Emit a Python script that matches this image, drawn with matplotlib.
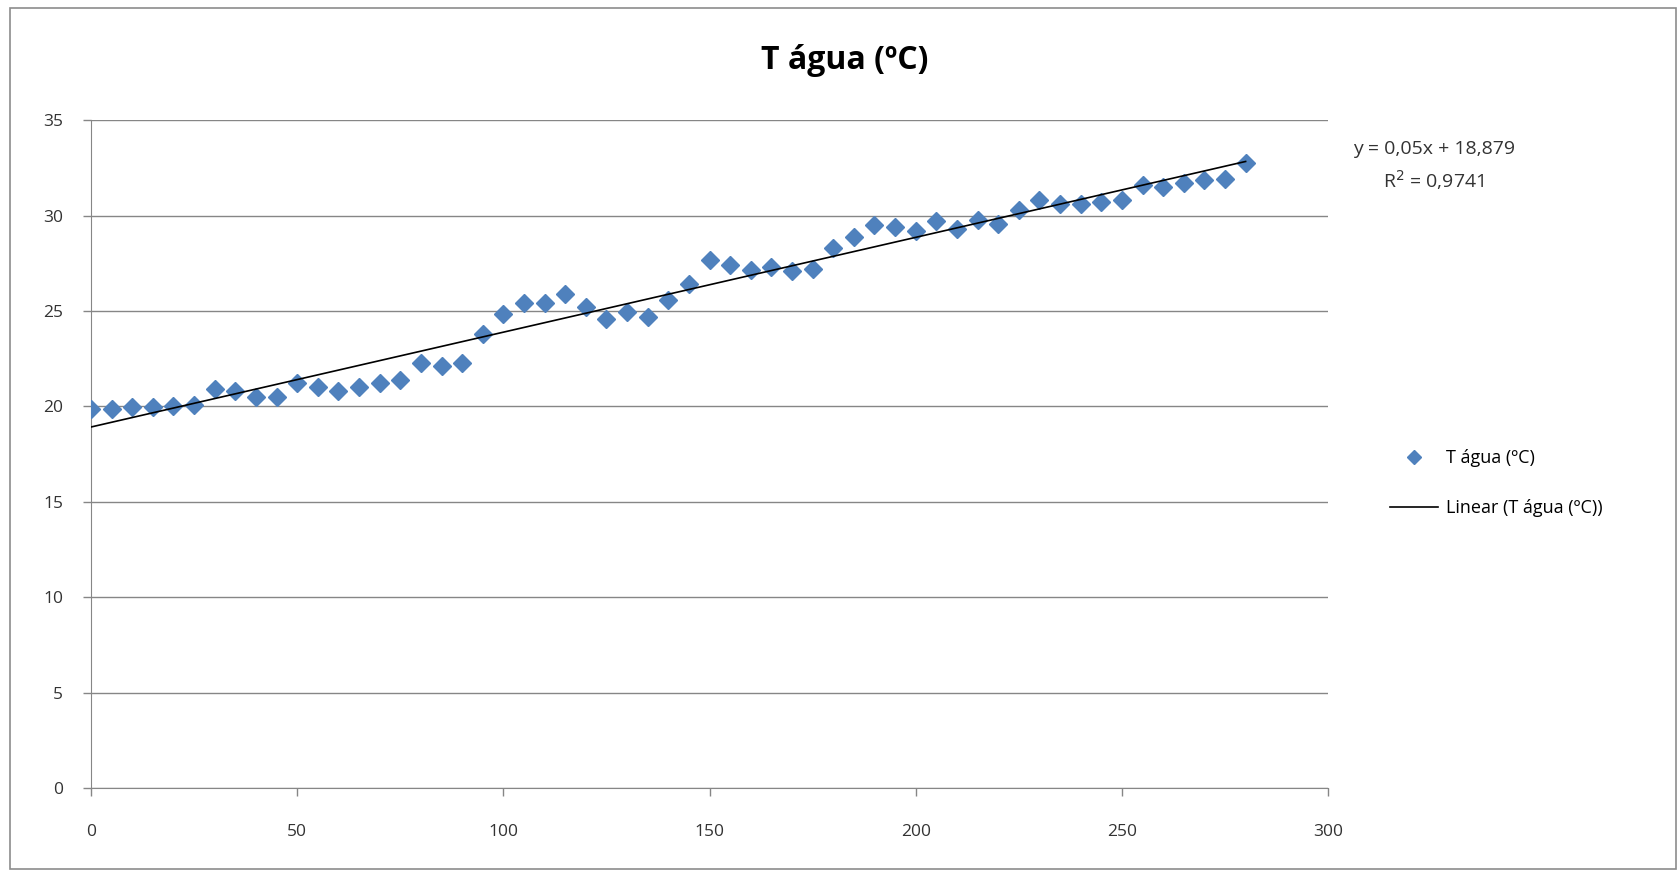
import numpy as np
import matplotlib.pyplot as plt
from matplotlib.patches import Rectangle

# tempo (x) e temperatura da água (y)
tempo = list(range(0, 285, 5))
t_agua = [19.85, 19.85, 19.97, 19.97, 20.0, 20.1, 20.9, 20.8, 20.5, 20.5,
          21.25, 21.0, 20.8, 21.0, 21.25, 21.4, 22.3, 22.1, 22.3, 23.8,
          24.85, 25.4, 25.45, 25.9, 25.2, 24.6, 24.95, 24.7, 25.6, 26.4,
          27.7, 27.4, 27.15, 27.3, 27.1, 27.2, 28.3, 28.9, 29.5, 29.4,
          29.2, 29.7, 29.3, 29.8, 29.55, 30.3, 30.85, 30.6, 30.6, 30.7,
          30.85, 31.6, 31.5, 31.7, 31.85, 31.9, 32.75]
y_ticks = [0, 5, 10, 15, 20, 25, 30, 35]
x_ticks = [0, 50, 100, 150, 200, 250, 300]

plt.rcParams['font.family'] = ['Open Sans', 'DejaVu Sans']

fig = plt.figure(figsize=(16.79, 8.72), dpi=100)
ax = fig.add_axes([0.0542, 0.0963, 0.7368, 0.7657])

# frame around the chart
fig.patches.append(Rectangle((0.006, 0.003), 0.992, 0.988, transform=fig.transFigure,
                             fill=False, edgecolor='#8c8c8c', linewidth=1.2))

x = np.array(tempo)
y = np.array(t_agua)
ax.plot(x, y, linestyle='none', marker='D', markersize=9, color='#4F81BD',
        markeredgecolor='#4F81BD', label='T água (ºC)', zorder=3)

# linha de tendência
coef = np.polyfit(x, y, 1)
ax.plot([x.min(), x.max()], np.polyval(coef, [x.min(), x.max()]), color='black',
        linewidth=1.2, label='Linear (T água (ºC))', zorder=4)

ax.set_xlim(0, 300)
ax.set_ylim(0, 35)
ax.set_xticks(x_ticks)
ax.set_yticks(y_ticks)
ax.yaxis.grid(True, color='#868686', linewidth=1)
ax.set_axisbelow(True)
for s in ['top', 'right']:
    ax.spines[s].set_visible(False)
for s in ['left', 'bottom']:
    ax.spines[s].set_color('#868686')
ax.tick_params(axis='both', colors='#868686', labelcolor='#333333', labelsize=12.5,
               length=6, width=1)
ax.tick_params(axis='x', pad=20)
ax.tick_params(axis='y', pad=14)

fig.text(0.503, 0.931, 'T água (ºC)', ha='center', va='center', fontsize=23,
         fontweight='bold', color='black')

fig.text(0.854, 0.829, 'y = 0,05x + 18,879', ha='center', va='center', fontsize=14,
         color='#333333')
fig.text(0.854, 0.793, 'R$^2$ = 0,9741', ha='center', va='center', fontsize=14,
         color='#333333')

ax.legend(loc='center left', bbox_to_anchor=(0.818, 0.446), bbox_transform=fig.transFigure,
          frameon=False, fontsize=13, handlelength=2.7, handletextpad=0.4,
          labelspacing=1.75, markerscale=0.75)

fig.savefig('out.png', dpi=100)
